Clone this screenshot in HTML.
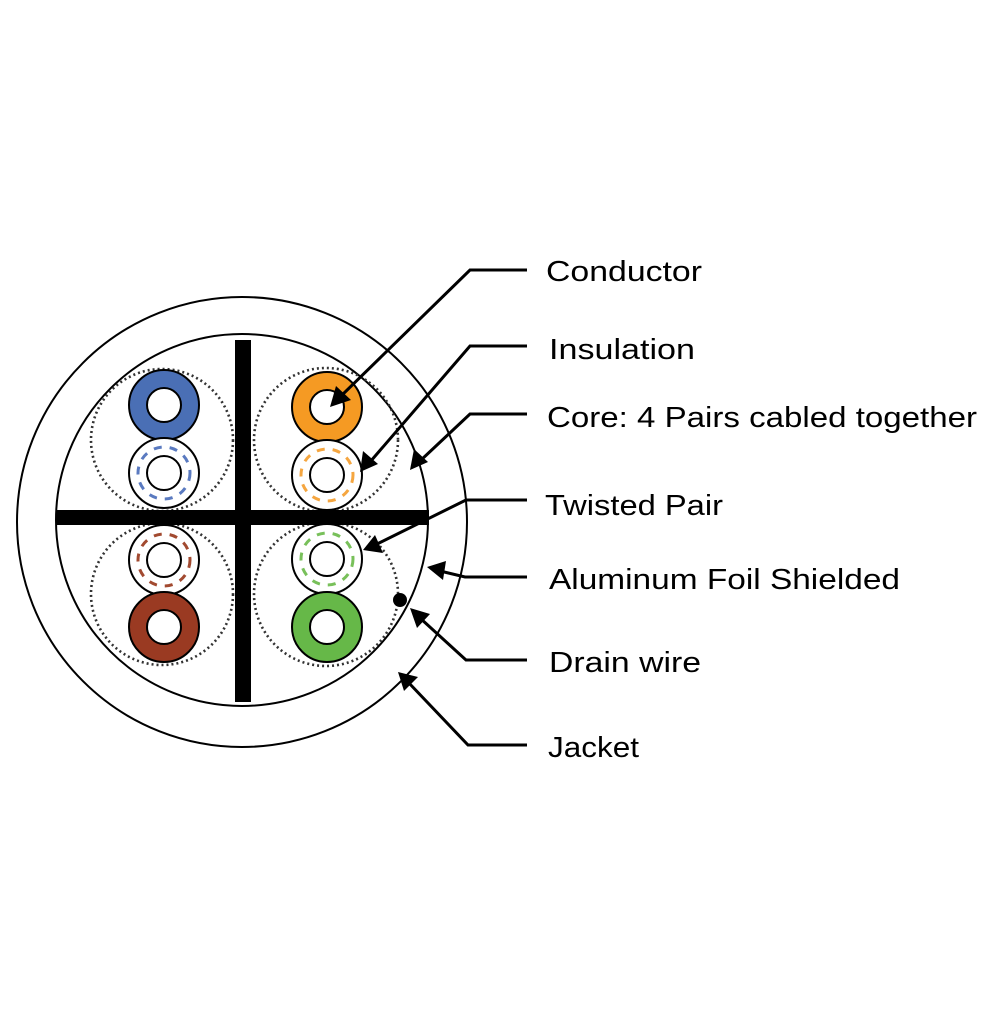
<!DOCTYPE html>
<html><head><style>html,body{margin:0;padding:0;background:#fff}</style></head>
<body>
<svg width="1005" height="1005" viewBox="0 0 1005 1005" xmlns="http://www.w3.org/2000/svg">
<rect width="1005" height="1005" fill="#fff"/>
<circle cx="242" cy="522" r="225" fill="none" stroke="#000" stroke-width="2"/>
<circle cx="242" cy="520" r="186" fill="none" stroke="#000" stroke-width="2"/>
<g fill="none" stroke="#333" stroke-width="2.6" stroke-dasharray="2 3">
<circle cx="162" cy="440" r="71"/><circle cx="326" cy="440" r="72"/>
<circle cx="162" cy="594" r="71"/><circle cx="326" cy="594" r="72"/>
</g>
<rect x="57" y="510" width="372" height="15" fill="#000"/>
<rect x="235" y="340" width="16" height="362" fill="#000"/>
<g stroke="#000" stroke-width="2">
<circle cx="164" cy="405" r="35" fill="#4a6fb5"/><circle cx="164" cy="405" r="17" fill="#fff"/>
<circle cx="164" cy="473" r="35" fill="#fff"/><circle cx="164" cy="473" r="17" fill="#fff"/>
<circle cx="327" cy="407" r="35" fill="#f59a23"/><circle cx="327" cy="407" r="17" fill="#fff"/>
<circle cx="327" cy="475" r="35" fill="#fff"/><circle cx="327" cy="475" r="17" fill="#fff"/>
<circle cx="164" cy="560" r="35" fill="#fff"/><circle cx="164" cy="560" r="17" fill="#fff"/>
<circle cx="164" cy="627" r="35" fill="#9a3a22"/><circle cx="164" cy="627" r="17" fill="#fff"/>
<circle cx="327" cy="559" r="35" fill="#fff"/><circle cx="327" cy="559" r="17" fill="#fff"/>
<circle cx="327" cy="627" r="35" fill="#66b848"/><circle cx="327" cy="627" r="17" fill="#fff"/>
</g>
<g fill="none" stroke-width="3" stroke-dasharray="8 8">
<circle cx="164" cy="473" r="26" stroke="#5a7ac0"/>
<circle cx="327" cy="475" r="26" stroke="#f5a640"/>
<circle cx="164" cy="560" r="26" stroke="#a24a30"/>
<circle cx="327" cy="559" r="26" stroke="#78c05a"/>
</g>
<circle cx="400" cy="600" r="7" fill="#000"/>
<g stroke="#000" stroke-width="3" fill="none">
<polyline points="527,270 470,270 340,397"/>
<polyline points="527,346 470,346 370,462"/>
<polyline points="527,414 470,414 420,461"/>
<polyline points="527,500 466,500 375,545"/>
<polyline points="527,577 465,577 440,571"/>
<polyline points="527,660 466,660 420,618"/>
<polyline points="527,745 468,745 408,682"/>
</g>
<g fill="#000">
<polygon points="330,407 336,386 351,400"/>
<polygon points="360,472 363,451 378,464"/>
<polygon points="410,470 414,449 428,462"/>
<polygon points="363,550 375,535 383,553"/>
<polygon points="427,567 446,561 443,580"/>
<polygon points="410,608 430,614 417,628"/>
<polygon points="398,672 418,677 404,691"/>
</g>
<g font-family="'Liberation Sans', sans-serif" font-size="29" fill="#000">
<text x="546" y="281" textLength="156" lengthAdjust="spacingAndGlyphs">Conductor</text>
<text x="549" y="359" textLength="146" lengthAdjust="spacingAndGlyphs">Insulation</text>
<text x="547" y="427" textLength="430" lengthAdjust="spacingAndGlyphs">Core: 4 Pairs cabled together</text>
<text x="545" y="515" textLength="178" lengthAdjust="spacingAndGlyphs">Twisted Pair</text>
<text x="549" y="589" textLength="351" lengthAdjust="spacingAndGlyphs">Aluminum Foil Shielded</text>
<text x="549" y="672" textLength="152" lengthAdjust="spacingAndGlyphs">Drain wire</text>
<text x="548" y="757" textLength="91" lengthAdjust="spacingAndGlyphs">Jacket</text>
</g>
</svg>
</body></html>
